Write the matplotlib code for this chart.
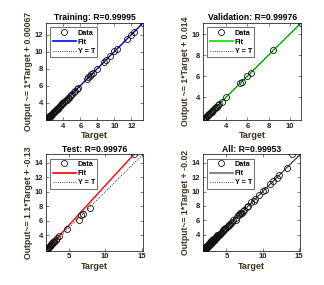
import matplotlib
matplotlib.use("Agg")
import matplotlib.pyplot as plt
from matplotlib.lines import Line2D

plt.rcParams['font.family'] = ['Liberation Sans', 'DejaVu Sans']
plt.rcParams['font.weight'] = 'bold'

# Regression data
train_target = [1.95, 1.98, 2.01, 2.04, 2.07, 2.1, 2.13, 2.16, 2.2, 2.24,
                2.28, 2.32, 2.36, 2.4, 2.44, 2.48, 2.53, 2.58, 2.63, 2.68,
                2.73, 2.79, 2.85, 2.91, 2.97, 3.03, 3.1, 3.17, 3.24, 3.31,
                3.38, 3.46, 3.54, 3.62, 3.7, 3.79, 3.88, 3.97, 4.06, 4.16,
                4.26, 4.37, 4.48, 4.6, 4.74, 4.88, 5.02, 5.2, 5.35, 5.62,
                5.75, 6.8, 6.95, 7.1, 7.3, 7.45, 7.95, 8.75, 9.0, 9.5,
                10.0, 10.3, 11.45, 11.95, 12.3, 13.35]
train_output = [1.96, 1.97, 2.02, 2.04, 2.08, 2.09, 2.14, 2.15, 2.21, 2.23,
                2.29, 2.31, 2.37, 2.39, 2.45, 2.47, 2.54, 2.57, 2.64, 2.67,
                2.74, 2.78, 2.86, 2.9, 2.98, 3.02, 3.11, 3.16, 3.25, 3.3,
                3.39, 3.45, 3.55, 3.61, 3.71, 3.78, 3.89, 3.96, 4.07, 4.15,
                4.27, 4.36, 4.49, 4.59, 4.75, 4.87, 5.03, 5.19, 5.36, 5.6,
                5.77, 6.78, 6.97, 7.08, 7.32, 7.44, 7.97, 8.73, 9.02, 9.48,
                10.02, 10.28, 11.47, 11.93, 12.32, 13.33]

val_target = [1.8, 1.85, 1.9, 1.95, 2.0, 2.05, 2.1, 2.16, 2.22, 2.28,
              2.34, 2.4, 2.47, 2.54, 2.61, 2.68, 2.76, 2.84, 2.92, 3.0,
              3.1, 3.2, 3.35, 3.55, 4.0, 5.3, 5.45, 5.95, 6.3, 8.45, 11.05]
val_output = [1.81, 1.84, 1.91, 1.96, 1.99, 2.06, 2.11, 2.15, 2.23, 2.27,
              2.35, 2.41, 2.46, 2.55, 2.6, 2.69, 2.77, 2.83, 2.93, 3.01,
              3.09, 3.22, 3.33, 3.57, 3.98, 5.33, 5.42, 5.98, 6.27, 8.48, 11.08]

test_target = [1.9, 1.95, 2.0, 2.05, 2.1, 2.15, 2.2, 2.26, 2.32, 2.38,
               2.45, 2.52, 2.6, 2.68, 2.77, 2.86, 2.95, 3.05, 3.2, 3.4,
               3.65, 4.75, 6.35, 6.65, 6.9, 7.85, 14.0]
test_output = [1.96, 2.01, 2.08, 2.12, 2.19, 2.23, 2.3, 2.35, 2.43, 2.48,
               2.58, 2.63, 2.74, 2.81, 2.93, 3.01, 3.13, 3.22, 3.4, 3.6,
               3.9, 4.85, 6.1, 6.8, 7.0, 7.8, 15.15]

all_target = train_target + val_target + test_target
all_output = train_output + val_output + test_output

titles = ["Training: R=0.99995", "Validation: R=0.99976",
          "Test: R=0.99976", "All: R=0.99953"]
ylabels = ["Output ~= 1*Target + 0.00067", "Output ~= 1*Target + 0.014",
           "Output~= 1.1*Target + -0.13", "Output~= 1*Target + -0.02"]
slopes = [1, 1, 1.1, 1]
intercepts = [0.00067, 0.014, -0.13, -0.02]
fit_colors = ["#0000ff", "#00e000", "#ff0000", "#707070"]
xticks = [[4, 6, 8, 10, 12], [4, 6, 8, 10], [5, 10, 15], [5, 10, 15]]
yticks = [[4, 6, 8, 10, 12], [4, 6, 8, 10], [4, 6, 8, 10, 12, 14],
          [4, 6, 8, 10, 12, 14]]
targets = [train_target, val_target, test_target, all_target]
outputs = [train_output, val_output, test_output, all_output]

positions = [[0.142, 0.579, 0.299, 0.340], [0.627, 0.579, 0.302, 0.340],
             [0.142, 0.121, 0.299, 0.337], [0.627, 0.121, 0.299, 0.337]]

label_color = "#3d3318"
mark_color = "#111111"

fig = plt.figure(figsize=(3.24, 2.85), dpi=100)
for i in range(4):
    ax = fig.add_axes(positions[i])
    t, o = targets[i], outputs[i]
    lo = min(min(t), min(o))
    hi = max(max(t), max(o))
    ax.plot([lo, hi], [slopes[i] * lo + intercepts[i], slopes[i] * hi + intercepts[i]],
            color=fit_colors[i], lw=1.0, zorder=2)
    ax.plot([lo, hi], [lo, hi], color="black", ls=":", lw=0.6, zorder=3)
    ax.plot(t, o, "o", mfc="none", mec=mark_color, ms=4.3, mew=0.6, zorder=4)
    ax.set_xlim(lo, hi)
    ax.set_ylim(lo, hi)
    ax.set_xticks(xticks[i])
    ax.set_yticks(yticks[i])
    ax.tick_params(direction="in", length=2, width=0.4, labelsize=5.5,
                   pad=2, top=True, right=True, colors="#222222")
    for lab in ax.get_xticklabels() + ax.get_yticklabels():
        lab.set_fontweight("bold")
    for s in ax.spines.values():
        s.set_linewidth(0.5)
    ax.set_title(titles[i], fontsize=6.2, fontweight="bold", pad=2)
    ax.set_xlabel("Target", fontsize=6.5, fontweight="bold", labelpad=1, color=label_color)
    ax.set_ylabel(ylabels[i], fontsize=6.2, fontweight="bold", labelpad=1, color=label_color)
    handles = [Line2D([], [], ls="none", marker="o", mfc="none", mec=mark_color, ms=4.3, mew=0.6),
               Line2D([], [], color=fit_colors[i], lw=1.2),
               Line2D([], [], color="black", ls=":", lw=0.6)]
    leg = ax.legend(handles, ["Data", "Fit", "Y = T"], loc="upper left",
                    prop={"weight": "bold", "size": 5.2},
                    frameon=True, fancybox=False, edgecolor="black",
                    handlelength=3.2, borderpad=0.3, labelspacing=0.3,
                    handletextpad=0.3, borderaxespad=0.6)
    leg.get_frame().set_linewidth(0.5)

fig.savefig("out.png", dpi=100)
